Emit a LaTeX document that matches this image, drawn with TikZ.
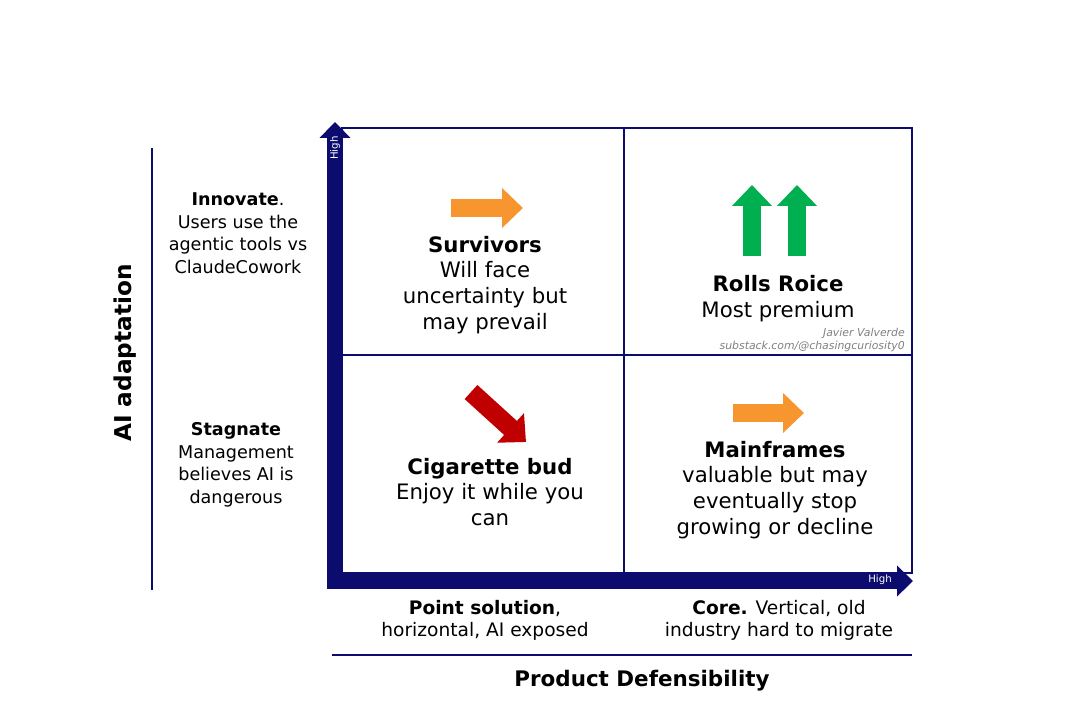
\documentclass[tikz,border=0pt]{standalone}
\usepackage{fontspec}
\setmainfont{DejaVu Sans}
\usetikzlibrary{arrows.meta}

\definecolor{achse}{RGB}{12,12,110}
\definecolor{orangepf}{RGB}{247,150,47}
\definecolor{gruenpf}{RGB}{0,176,80}
\definecolor{rotpf}{RGB}{192,0,0}

\begin{document}
\begin{tikzpicture}[x=0.02cm,y=-0.02cm,
    quad/.style={align=center,font=\fontsize{12.1}{14.7}\selectfont},
    seite/.style={align=center,font=\fontsize{10}{12.8}\selectfont},
    unten/.style={align=center,font=\fontsize{10.6}{12.5}\selectfont},
    titel/.style={font=\fontsize{12.2}{14}\selectfont\bfseries},
    bigarrow/.style={#1,line width=10.8pt,-{Triangle[length=11.9pt,width=22pt]}},
    achsepf/.style={achse,line width=9pt,-{Triangle[length=9pt,width=17pt]}},
    duenn/.style={achse,line width=0.7pt}]
  % Rahmen
  \useasboundingbox (0,0) rectangle (1076,710);

  % Quadranten
  \draw[duenn] (342,128) rectangle (912,573);
  \draw[duenn] (624,128) -- (624,573);
  \draw[duenn] (342,355) -- (912,355);

  % Achsen
  \coordinate (yStart) at (335,588);
  \coordinate (yEnd) at (335,122);
  \coordinate (xStart) at (327,581);
  \coordinate (xEnd) at (913,581);
  \draw[achsepf] (yStart) -- (yEnd);
  \draw[achsepf] (xStart) -- (xEnd);
  \node[white,rotate=90,font=\fontsize{5.8}{6}\selectfont] (yHigh) at (335,148) {High};
  \node[white,font=\fontsize{5.8}{6}\selectfont] (xHigh) at (880,580) {High};

  % Hilfslinien
  \coordinate (lTop) at (152,148);
  \coordinate (lBot) at (152,590);
  \coordinate (bLeft) at (332,655);
  \coordinate (bRight) at (912,655);
  \draw[duenn] (lTop) -- (lBot);
  \draw[duenn] (bLeft) -- (bRight);

  % Achsentitel
  \node[titel,rotate=90,font=\fontsize{13.2}{14}\selectfont\bfseries] (yTitel) at (125,353) {AI adaptation};
  \node[titel] (xTitel) at (642,681) {Product Defensibility};

  % Beschriftung links
  \node[seite] (innov) at (238,233) {\textbf{Innovate}.\\Users use the\\agentic tools vs\\ClaudeCowork};
  \node[seite] (stagn) at (236,465) {\textbf{Stagnate}\\Management\\believes AI is\\dangerous};

  % Beschriftung unten
  \node[unten] (point) at (485,620) {\textbf{Point solution},\\horizontal, AI exposed};
  \node[unten] (core) at (779,620) {\textbf{Core.} Vertical, old\\industry hard to migrate};

  % Quadrantentexte
  \node[quad] (surv) at (485,285) {\textbf{Survivors}\\Will face\\uncertainty but\\may prevail};
  \node[quad] (rolls) at (778,299) {\textbf{Rolls Roice}\\Most premium};
  \node[quad] (cig) at (490,492) {\textbf{Cigarette bud}\\Enjoy it while you\\can};
  \node[quad] (main) at (775,490) {\textbf{Mainframes}\\valuable but may\\eventually stop\\growing or decline};

  % Signatur
  \node[anchor=east,align=right,gray,font=\fontsize{6.2}{7.3}\selectfont\itshape] (sig) at (911,340)
    {Javier Valverde\\substack.com/@chasingcuriosity0};

  % Pfeile
  \coordinate (o1a) at (451,208);
  \coordinate (o1b) at (523,208);
  \coordinate (o2a) at (733,413);
  \coordinate (o2b) at (804,413);
  \coordinate (g1a) at (752,256);
  \coordinate (g1b) at (752,185);
  \coordinate (g2a) at (797,256);
  \coordinate (g2b) at (797,185);
  \coordinate (ra) at (471,392);
  \coordinate (rb) at (526,442);
  \draw[bigarrow=orangepf] (o1a) -- (o1b);
  \draw[bigarrow=orangepf] (o2a) -- (o2b);
  \draw[bigarrow=gruenpf] (g1a) -- (g1b);
  \draw[bigarrow=gruenpf] (g2a) -- (g2b);
  \draw[bigarrow=rotpf] (ra) -- (rb);

\end{tikzpicture}
\end{document}
